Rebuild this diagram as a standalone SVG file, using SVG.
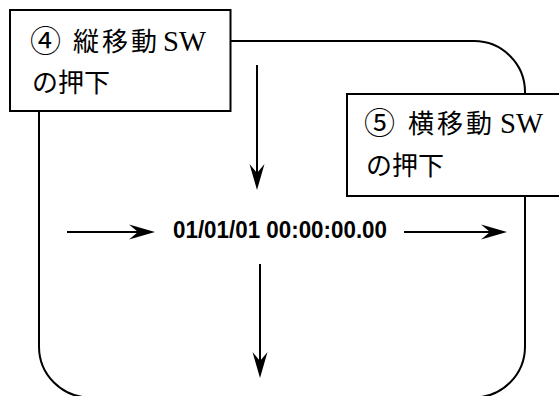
<svg xmlns="http://www.w3.org/2000/svg" width="559" height="396" viewBox="0 0 559 396">
<style>
.ln{fill:none;stroke:#000;stroke-width:2}
.box{fill:#fff;stroke:#000;stroke-width:2}
.jp{font-family:"Noto Sans CJK JP","Noto Sans CJK SC",sans-serif;font-size:26px;fill:#000}
.circ{font-size:31px}
.lat{font-family:"Liberation Serif",serif;font-size:30px;fill:#000}
.mono{font-family:"Liberation Sans",Arial,sans-serif;font-size:23px;font-weight:bold;fill:#000}
</style>
<defs>
<marker id="ah" viewBox="-15 -8 28 16" refX="0" refY="0" markerWidth="28" markerHeight="16" markerUnits="userSpaceOnUse" orient="auto">
<path d="M12,0 L-14,-7.5 L-5,0 L-14,7.5 Z" fill="#000"/>
</marker>
</defs>
<g id="connectors">
<path id="loop" class="ln" d="M39,41 H474 A51,51 0 0 1 525,92 V346.5 A51,51 0 0 1 474,397.5 H90 A51,51 0 0 1 39,346.5 Z"/>
<line class="ln" x1="257" y1="65" x2="257" y2="178" marker-end="url(#ah)"/>
<line class="ln" x1="260" y1="264" x2="260" y2="366" marker-end="url(#ah)"/>
<line class="ln" x1="67" y1="232" x2="143" y2="232" marker-end="url(#ah)"/>
<line class="ln" x1="404" y1="232" x2="495" y2="232" marker-end="url(#ah)"/>
</g>
<g id="node4">
<rect class="box" x="10" y="10" width="220.5" height="101"/>
<text class="jp" y="51"><tspan class="circ" x="30" y="52">④</tspan><tspan x="73" y="51">縦</tspan><tspan x="102">移</tspan><tspan x="131">動</tspan></text>
<text class="lat" x="163" y="51" textLength="43" lengthAdjust="spacingAndGlyphs">SW</text>
<text class="jp" x="32" y="92">の押下</text>
</g>
<g id="node5">
<rect class="box" x="347" y="94" width="220" height="102"/>
<text class="jp" y="133"><tspan class="circ" x="364" y="134">⑤</tspan><tspan x="408" y="133">横</tspan><tspan x="437">移</tspan><tspan x="466">動</tspan></text>
<text class="lat" x="500" y="133" textLength="43" lengthAdjust="spacingAndGlyphs">SW</text>
<text class="jp" x="366" y="175">の押下</text>
</g>
<g id="display">
<text class="mono" x="173" y="238" textLength="214" lengthAdjust="spacingAndGlyphs">01/01/01 00:00:00.00</text>
</g>
</svg>
